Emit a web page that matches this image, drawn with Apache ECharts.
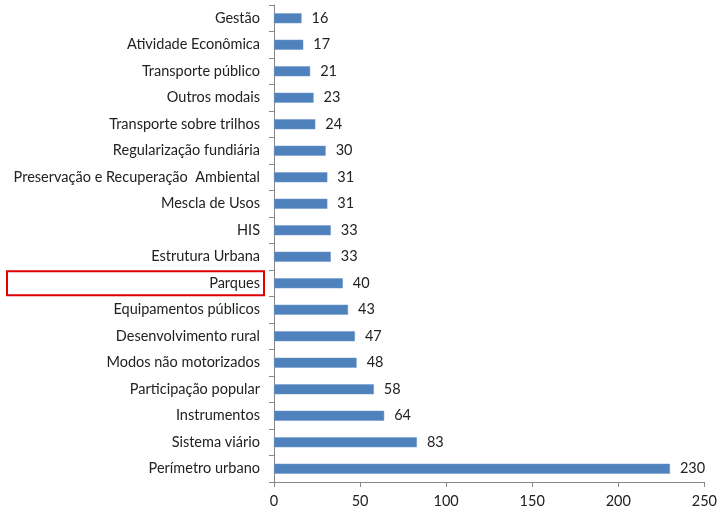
<!DOCTYPE html>
<html>
<head>
<meta charset="utf-8">
<script src="https://cdn.jsdelivr.net/npm/echarts@6/dist/echarts.min.js"></script>
<style>
  html, body { margin: 0; padding: 0; background: #fff; }
  #chart { width: 720px; height: 512px; }
</style>
</head>
<body>
<div id="chart"></div>
<script>
// Categories listed bottom to top (category axis starts at the bottom)
const categories = [
  'Perímetro urbano', 'Sistema viário', 'Instrumentos', 'Participação popular',
  'Modos não motorizados', 'Desenvolvimento rural', 'Equipamentos públicos', 'Parques',
  'Estrutura Urbana', 'HIS', 'Mescla de Usos', 'Preservação e Recuperação  Ambiental',
  'Regularização fundiária', 'Transporte sobre trilhos', 'Outros modais',
  'Transporte público', 'Atividade Econômica', 'Gestão'
];
const values = [230, 83, 64, 58, 48, 47, 43, 40, 33, 33, 31, 31, 30, 24, 23, 21, 17, 16];
const highlighted = 'Parques';

const FONT = 'Lato, "Open Sans", sans-serif';
const chart = echarts.init(document.getElementById('chart'));
chart.setOption({
  animation: false,
  grid: { left: 274, right: 14, top: 5, bottom: 30 },
  xAxis: {
    type: 'value', min: 0, max: 250, interval: 50,
    axisLine: { show: true, lineStyle: { color: '#888' } },
    axisTick: { show: true, length: 5, lineStyle: { color: '#888' } },
    splitLine: { show: false },
    axisLabel: { color: '#222', fontSize: 14.5, fontFamily: FONT, margin: 12 }
  },
  yAxis: {
    type: 'category', data: categories,
    axisLine: { lineStyle: { color: '#888' } },
    axisTick: { show: true, length: 5, lineStyle: { color: '#888' } },
    axisLabel: { color: '#222', fontSize: 14.5, fontFamily: FONT, margin: 14 }
  },
  series: [{
    type: 'bar', data: values, barWidth: 10,
    itemStyle: { color: '#4F81BD', borderColor: '#6f97c8', borderWidth: 0.5 },
    label: { show: true, position: 'right', distance: 10, color: '#222', fontSize: 14.5, fontFamily: FONT }
  }]
});

// Frame around the highlighted category label
const cy = chart.convertToPixel({ yAxisIndex: 0 }, highlighted);
chart.setOption({
  graphic: [{
    type: 'rect', shape: { x: 7, y: cy - 12, width: 257, height: 24 },
    style: { fill: 'none', stroke: '#e00000', lineWidth: 2 }
  }]
});
</script>
</body>
</html>
